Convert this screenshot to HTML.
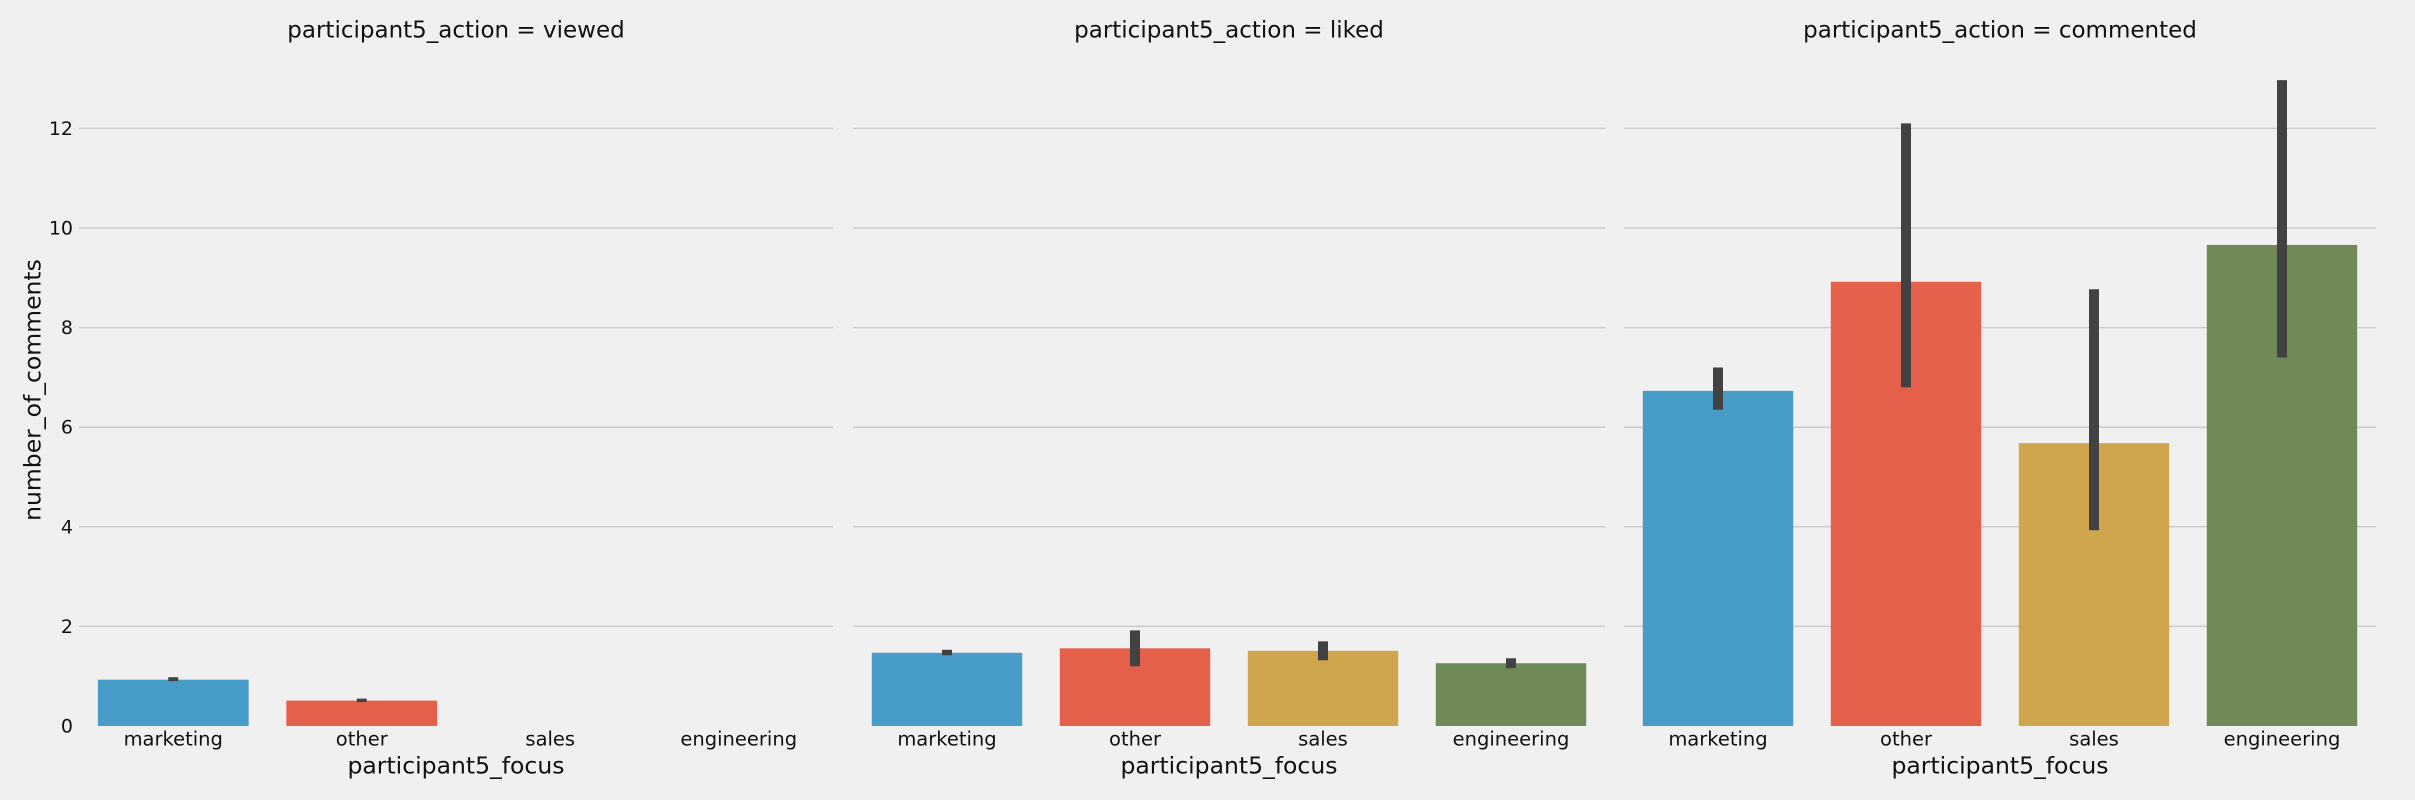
<!DOCTYPE html>
<html><head><meta charset="utf-8"><style>
html,body{margin:0;padding:0;background:#f0f0f0;}
svg{display:block;font-family:"DejaVu Sans","Liberation Sans",sans-serif;}
</style></head><body>
<svg id="chart" width="2415" height="800" viewBox="0 0 2415 800">
<rect width="2415" height="800" fill="#f0f0f0"/>
<text x="34" y="390" transform="rotate(-90 34 390)" text-anchor="middle" dominant-baseline="middle" font-size="23.5" fill="#111">number_of_comments</text>
</svg>
<script>
const panelTitles = ["participant5_action = viewed", "participant5_action = liked", "participant5_action = commented"];
const categories = ["marketing", "other", "sales", "engineering"];
const viewedValues = [0.93, 0.51, null, null];
const viewedLow = [0.90, 0.48, null, null];
const viewedHigh = [0.98, 0.55, null, null];
const likedValues = [1.47, 1.56, 1.51, 1.26];
const likedLow = [1.42, 1.20, 1.32, 1.16];
const likedHigh = [1.53, 1.92, 1.70, 1.36];
const commentedValues = [6.73, 8.92, 5.68, 9.66];
const commentedLow = [6.35, 6.80, 3.93, 7.40];
const commentedHigh = [7.20, 12.10, 8.77, 12.97];
const yTicks = [0, 2, 4, 6, 8, 10, 12];
const colors = ["#479cc8", "#e4604a", "#cfa54e", "#6f8a56"];

const NS = "http://www.w3.org/2000/svg";
const svg = document.getElementById("chart");
const panelLefts = [79, 853, 1624];
const panelWs = [754, 752, 752];
const y0 = 726, unit = 49.8;
function yScale(v){ return y0 - v*unit; }
function mk(tag, attrs){ const e=document.createElementNS(NS,tag); for(const k in attrs) e.setAttribute(k,attrs[k]); svg.appendChild(e); return e; }

const series = [[viewedValues,viewedLow,viewedHigh],[likedValues,likedLow,likedHigh],[commentedValues,commentedLow,commentedHigh]];
panelTitles.forEach((title, p) => {
  const L = panelLefts[p];
  const panelW = panelWs[p];
  const step = panelW / categories.length;
  yTicks.forEach(t => {
    if (t === 0) return;
    const g = mk("line",{x1:L,x2:L+panelW,y1:yScale(t),y2:yScale(t),stroke:"#cbcbcb","stroke-width":1.5});
    
    
  });
  if (p === 0) {
    yTicks.forEach(t => {
      const tx = mk("text",{x:73,y:yScale(t)+1,"text-anchor":"end","dominant-baseline":"middle","font-size":19,fill:"#111"});
      tx.textContent = t;
      
      
    });
  }
  const tt = mk("text",{x:L+panelW/2,y:31,"text-anchor":"middle","dominant-baseline":"middle","font-size":23,fill:"#111"});
  tt.textContent = title;
  
  
  const [vals, lo, hi] = series[p];
  categories.forEach((c, i) => {
    const cx = L + step*(i+0.5);
    const bw = step*0.8;
    if (vals[i] !== null) {
      const b = mk("rect",{x:cx-bw/2,y:yScale(vals[i]),width:bw,height:y0-yScale(vals[i]),fill:colors[i]});
      
      
      const e = mk("line",{x1:cx,x2:cx,y1:yScale(lo[i]),y2:yScale(hi[i]),stroke:"#424242","stroke-width":10});
      
      
    }
    const lab = mk("text",{x:cx,y:740,"text-anchor":"middle","dominant-baseline":"middle","font-size":19.5,fill:"#111"});
    lab.textContent = c;
    
    
  });
  const xl = mk("text",{x:L+panelW/2,y:767,"text-anchor":"middle","dominant-baseline":"middle","font-size":23.5,fill:"#111"});
  xl.textContent = "participant5_focus";
  
  
});
</script>
</body></html>
